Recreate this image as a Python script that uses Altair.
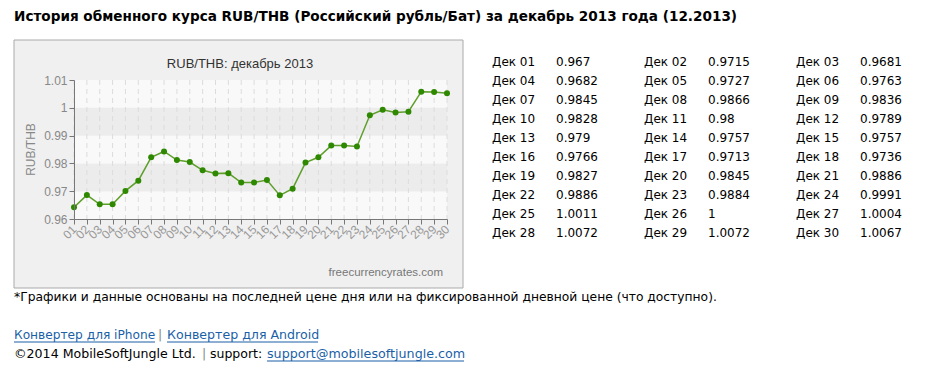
import altair as alt
import pandas as pd

# ---- data ----
days = ["01","02","03","04","05","06","07","08","09","10","11","12","13","14","15",
        "16","17","18","19","20","21","22","23","24","25","26","27","28","29","30"]
rates = [0.9642,0.9686,0.9653,0.9653,0.9701,0.9738,0.9822,0.9843,0.9812,0.9805,
         0.9775,0.9764,0.9765,0.9731,0.9731,0.9740,0.9685,0.9709,0.9803,0.9822,
         0.9864,0.9864,0.9861,0.9973,0.9993,0.9983,0.9986,1.0058,1.0057,1.0052]

# ---- table of values (as printed) ----
table_labels = ["Дек " + d for d in days]
table_values = ["0.967","0.9715","0.9681","0.9682","0.9727","0.9763","0.9845","0.9866",
                "0.9836","0.9828","0.98","0.9789","0.979","0.9757","0.9757","0.9766",
                "0.9713","0.9736","0.9827","0.9845","0.9886","0.9886","0.9884","0.9991",
                "1.0011","1","1.0004","1.0072","1.0072","1.0067"]

band_lo = [0.96, 0.97, 0.98, 0.99, 1.00]
band_hi = [0.97, 0.98, 0.99, 1.00, 1.01]
y_ticks = [0.96, 0.97, 0.98, 0.99, 1.00, 1.01]

page_title = "История обменного курса RUB/THB (Российский рубль/Бат) за декабрь 2013 года (12.2013)"
chart_title = "RUB/THB: декабрь 2013"
y_title = "RUB/THB"
watermark = "freecurrencyrates.com"
footnote = "*Графики и данные основаны на последней цене дня или на фиксированной дневной цене (что доступно)."
link1 = "Конвертер для iPhone"
link2 = "Конвертер для Android"
copyright_txt = "©2014 MobileSoftJungle Ltd."
support_txt = "support:"
email = "support@mobilesoftjungle.com"

W, H = 373, 139
SANS = "Liberation Sans"
VER = "DejaVu Sans"
LINK = "#1a5fa8"

df_line = pd.DataFrame({"day": days, "rate": rates})
df_band = pd.DataFrame({"lo": band_lo, "hi": band_hi,
                        "shade": ["light" if i % 2 == 0 else "dark" for i in range(len(band_lo))]})
df_tab = pd.DataFrame({"label": table_labels, "value": table_values,
                       "col": [i % 3 for i in range(len(days))],
                       "row": [i // 3 for i in range(len(days))]})

def one(t):
    return pd.DataFrame({"t": [t]})

def txt(t, x, y, **kw):
    base = dict(align="left", baseline="middle")
    base.update(kw)
    return alt.Chart(one(t)).mark_text(**base).encode(
        x=alt.value(x), y=alt.value(y), text="t:N")

# background box
box = alt.Chart(one("box")).mark_rect(fill="#f0f0f0", stroke="#aaaaaa", strokeWidth=1).encode(
    x=alt.value(-60), x2=alt.value(389), y=alt.value(-40), y2=alt.value(208))

xs = alt.Scale(type="point", padding=0, domain=days)
ys = alt.Scale(domain=[0.96, 1.01], nice=False, zero=False)

x_axis = alt.Axis(
    title=None, labelAngle=-45, labelAlign="right", labelBaseline="middle",
    labelFont=SANS, labelFontSize=12, labelColor="#999999", labelPadding=3,
    tickColor="#777777", tickSize=5, domainColor="#777777", grid=False, labelOverlap=False,
    zindex=1)
y_axis = alt.Axis(
    title=None, values=y_ticks, format=".2~f", labelFont=SANS, labelFontSize=12,
    labelColor="#888888", labelPadding=2, tickColor="#777777", tickSize=5,
    domainColor="#777777", grid=False, zindex=1)

bands = alt.Chart(df_band).mark_rect().encode(
    x=alt.value(0), x2=alt.value(W),
    y=alt.Y("lo:Q", scale=ys, axis=y_axis), y2="hi:Q",
    color=alt.Color("shade:N", scale=alt.Scale(domain=["light", "dark"], range=["#f9f9f9", "#ececec"]), legend=None))

grid = alt.Chart(df_line).mark_rule(color="#dcdcdc", strokeDash=[5, 4], strokeWidth=1).encode(
    x=alt.X("day:N", scale=xs, axis=x_axis),
    y=alt.value(0), y2=alt.value(H))

line = alt.Chart(df_line).mark_line(color="#5f9f2c", strokeWidth=1.5,
                                    point=alt.OverlayMarkDef(filled=True, size=36, color="#2e8800", opacity=1)).encode(
    x=alt.X("day:N", scale=xs, axis=x_axis),
    y=alt.Y("rate:Q", scale=ys, axis=y_axis))

plot = alt.layer(bands, grid, line)

tab_x = alt.Scale(domain=[0, 2], range=[418, 722])
tab_y = alt.Scale(domain=[0, 9], range=[-14.3, 156.7])
tab_labels = alt.Chart(df_tab).mark_text(align="left", baseline="alphabetic", font=VER, fontSize=12,
                                         color="#000000").encode(
    x=alt.X("col:Q", scale=tab_x, axis=None), y=alt.Y("row:Q", scale=tab_y, axis=None), text="label:N")
tab_values = alt.Chart(df_tab).mark_text(align="left", baseline="alphabetic", font=VER, fontSize=12,
                                         color="#000000", dx=64).encode(
    x=alt.X("col:Q", scale=tab_x, axis=None), y=alt.Y("row:Q", scale=tab_y, axis=None), text="value:N")

texts = [
    txt(page_title, -60, -63, font=VER, fontSize=13.6, fontWeight="bold", color="#000000"),
    txt(chart_title, 166, -16, align="center", font=SANS, fontSize=13, color="#333333"),
    txt(y_title, -43, H / 2, align="center", angle=270, font=SANS, fontSize=12, color="#888888"),
    txt(watermark, 369, 193, align="right", font=SANS, fontSize=11.5, color="#777777"),
    txt(footnote, -60, 217, font=VER, fontSize=12.3, color="#000000"),
    txt(link1, -60, 255, font=VER, fontSize=12.2, color=LINK),
    txt("|", 86, 255, align="center", font=VER, fontSize=12.5, color="#888888"),
    txt(link2, 93, 255, font=VER, fontSize=12.6, color=LINK),
    txt(copyright_txt, -60, 274, font=VER, fontSize=12.6, color="#000000"),
    txt("|", 130, 274, align="center", font=VER, fontSize=12.5, color="#888888"),
    txt(support_txt, 136, 274, font=VER, fontSize=12.5, color="#000000"),
    txt(email, 193, 274, font=VER, fontSize=12.7, color=LINK),
]

underlines = [
    alt.Chart(one("u1")).mark_rule(color=LINK).encode(x=alt.value(-60), x2=alt.value(81), y=alt.value(262)),
    alt.Chart(one("u2")).mark_rule(color=LINK).encode(x=alt.value(93), x2=alt.value(244), y=alt.value(262)),
    alt.Chart(one("u3")).mark_rule(color=LINK).encode(x=alt.value(193), x2=alt.value(390), y=alt.value(281)),
]

chart = alt.layer(box, plot, tab_labels, tab_values, *texts, *underlines).resolve_scale(
    x="independent", y="independent", color="independent"
).properties(
    width=W, height=H,
    autosize=alt.AutoSizeParams(type="none"),
    padding={"left": 74, "top": 80, "right": 478, "bottom": 146},
    background="#ffffff",
).configure_view(stroke=None)

chart.save("out.html", embed_options={"renderer": "svg", "actions": False})
